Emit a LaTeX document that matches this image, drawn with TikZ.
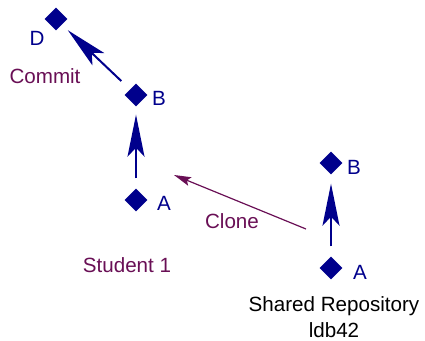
\documentclass[tikz,border=0pt]{standalone}
\usepackage{fontspec}
\setmainfont{Liberation Sans}
\usetikzlibrary{arrows.meta,shapes.geometric}
\definecolor{navy}{RGB}{0,0,140}
\definecolor{plum}{RGB}{105,15,85}
\tikzset{
  commit/.style={diamond,fill=navy,draw=none,minimum size=23pt,inner sep=0pt},
  lbl/.style={anchor=base,inner sep=0pt,font=\fontsize{20.6}{24}\selectfont},
  navylbl/.style={lbl,text=navy},
  plumlbl/.style={lbl,text=plum},
  parent/.style={draw=navy,line width=2pt,-{Stealth[length=42pt,width=17pt,inset=9pt]}},
  clonearrow/.style={draw=plum,line width=1.2pt,-{Stealth[length=17pt,width=9pt,inset=3pt]}}
}
\begin{document}
\begin{tikzpicture}[x=1pt,y=-1pt]
\useasboundingbox (0,0) rectangle (425,340);
% student clone
\node[commit] (D) at (56,19) {};
\node[commit] (B1) at (136,95) {};
\node[commit] (A1) at (136,200) {};
% shared repository
\node[commit] (B2) at (331,163) {};
\node[commit] (A2) at (331,268) {};
% labels
\node[navylbl] (lD) at (37,45) {D};
\node[navylbl] (lB1) at (159,105) {B};
\node[navylbl] (lA1) at (164,210) {A};
\node[navylbl] (lB2) at (354,174) {B};
\node[navylbl] (lA2) at (360,279) {A};
\node[plumlbl] (commitlbl) at (45,83) {Commit};
\node[plumlbl] (clonelbl) at (232,228) {Clone};
\node[plumlbl] (student) at (127,272) {Student 1};
\node[lbl] (shared) at (334,311) {Shared Repository};
\node[lbl] (ldb) at (334,337) {ldb42};
% connectors
\draw[parent,shorten <=10pt,shorten >=8pt] (A1) -- (B1);
\draw[parent,shorten <=10pt,shorten >=9pt] (A2) -- (B2);
\draw[parent,shorten <=12pt,shorten >=8pt] (B1) -- (D);
\coordinate (cs) at (306,229);
\coordinate (ce) at (174,175);
\draw[clonearrow] (cs) -- (ce);
\end{tikzpicture}
\end{document}
